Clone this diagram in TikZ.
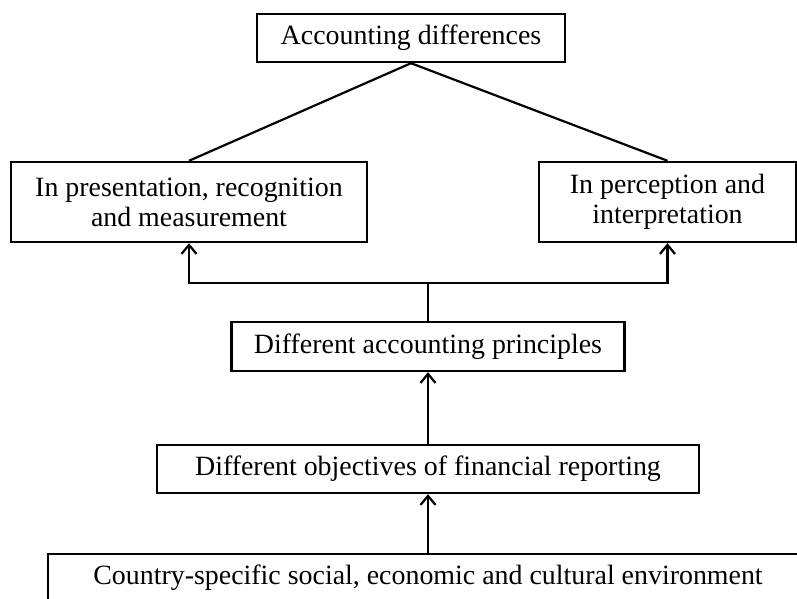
\documentclass[tikz,border=0pt]{standalone}
\usepackage{fontspec}
\setmainfont{Liberation Serif}
\usetikzlibrary{positioning,arrows.meta}

\begin{document}
\begin{tikzpicture}[>={Straight Barb[length=9bp,width=15bp]},x=1bp,y=-1bp,
    box/.style={draw=black,line width=2.4bp,inner sep=0bp,align=center,
      font=\fontsize{28}{30}\selectfont},
    link/.style={line width=2.2bp}]
  %%
  \clip (0,0) rectangle (797,599);
  \useasboundingbox (0,0) rectangle (797,599);
  \node (diff) at (411,38) [box,minimum width=308bp,minimum height=48bp] {Accounting differences};
  \node (pres) at (189,202) [box,minimum width=356bp,minimum height=80bp] {In presentation, recognition\\and measurement};
  \node (perc) at (667.5,202) [box,minimum width=257bp,minimum height=80bp] {In perception and\\interpretation};
  \node (princ) at (428,346.5) [box,minimum width=393bp,minimum height=49bp] {Different accounting principles};
  \node (obj) at (428,469) [box,minimum width=542bp,minimum height=48bp] {Different objectives of financial reporting};
  \node (env) at (428,578) [box,minimum width=760bp,minimum height=48bp] {Country-specific social, economic and cultural environment};
  \coordinate (split) at (428,283);
  %%
  \draw [link] (diff.south) -- (pres.north);
  \draw [link] (diff.south) -- (perc.north);
  \draw [link,->] (princ.north) -- (split) -| (pres.south);
  \draw [link,->] (split) -| (perc.south);
  \draw [link,->] (obj) -- (princ);
  \draw [link,->] (env) -- (obj);
\end{tikzpicture}
\end{document}
